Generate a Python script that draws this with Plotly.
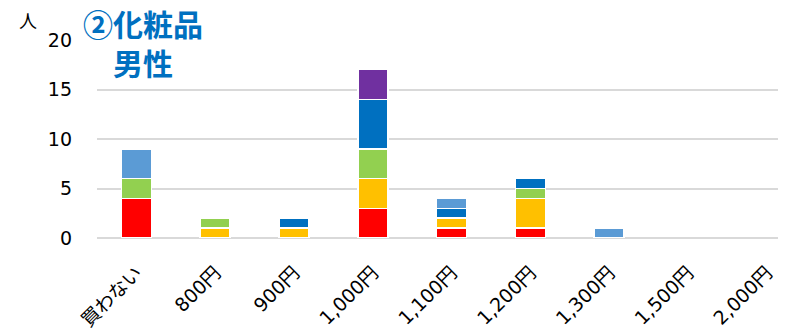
import plotly.graph_objects as go

categories = ["買わない", "800円", "900円", "1,000円", "1,100円", "1,200円", "1,300円", "1,500円", "2,000円"]

series_names = ["系列1", "系列2", "系列3", "系列4", "系列5", "系列6"]
s1_red = [4, 0, 0, 3, 1, 1, 0, 0, 0]
s2_orange = [0, 1, 1, 3, 1, 3, 0, 0, 0]
s3_green = [2, 1, 0, 3, 0, 1, 0, 0, 0]
s4_blue = [0, 0, 1, 5, 1, 1, 0, 0, 0]
s5_purple = [0, 0, 0, 3, 0, 0, 0, 0, 0]
s6_lightblue = [3, 0, 0, 0, 1, 0, 1, 0, 0]

colors = ["#FF0000", "#FFC000", "#92D050", "#0070C0", "#7030A0", "#5B9BD5"]
y_ticks = [0, 5, 10, 15, 20]

# page body has an 8px default margin; compensate so the plot lands where the reference has it
OFF = 8
W, H = 786, 331
L, T = 97 - OFF, 40 - OFF
PW = W - L
PH = 198
B = H - T - PH
R = 0


def sx(x):
    return (x - OFF - L) / PW


def sy(y):
    return 1 - (y - OFF - T) / PH


fig = go.Figure()
for name, vals, col in zip(series_names,
                           [s1_red, s2_orange, s3_green, s4_blue, s5_purple, s6_lightblue],
                           colors):
    fig.add_trace(go.Bar(
        x=categories, y=[v if v else None for v in vals], name=name,
        marker=dict(color=col, line=dict(color="white", width=1.5)),
    ))

font_family = "Verdana, DejaVu Sans, Noto Sans CJK JP, sans-serif"
cat_px = 78.8

fig.update_layout(
    barmode="stack",
    bargap=0.62,
    width=W, height=H,
    margin=dict(l=L, r=R, t=T, b=B, autoexpand=False),
    paper_bgcolor="white", plot_bgcolor="white",
    showlegend=False,
    font=dict(family=font_family, color="#000000"),
    xaxis=dict(
        range=[-0.5, -0.5 + PW / cat_px],
        tickangle=-45,
        tickfont=dict(size=19, family=font_family, color="#000000"),
        showgrid=False, showline=False, zeroline=False,
        ticklabelstandoff=19,
        automargin=False,
    ),
    yaxis=dict(
        range=[0, 20],
        tickvals=y_ticks,
        tickfont=dict(size=19, family=font_family, color="#000000"),
        showgrid=True, gridcolor="#D9D9D9", gridwidth=2,
        zeroline=True, zerolinecolor="#D9D9D9", zerolinewidth=2,
        showline=False,
        ticklabelstandoff=24,
        automargin=False,
    ),
    annotations=[
        dict(text="人", xref="paper", yref="paper", x=sx(17), y=sy(20),
             xanchor="left", yanchor="middle", showarrow=False,
             font=dict(size=18, family="Noto Sans CJK JP", color="#000000")),
        dict(text="<b>②化粧品</b><br><b>\u3000男性</b>", xref="paper", yref="paper",
             x=sx(82), y=sy(0), align="left",
             xanchor="left", yanchor="top", showarrow=False, borderpad=0,
             font=dict(size=30, family="Noto Sans CJK JP", color="#0070C0")),
    ],
)

fig.write_html("out.html")
